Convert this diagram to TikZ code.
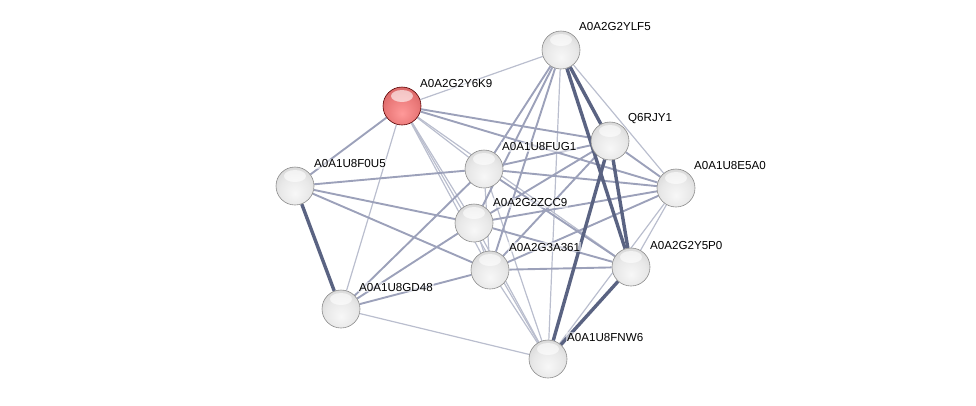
\documentclass[tikz,border=0pt]{standalone}
\usepackage{fontspec}
\setmainfont{Liberation Sans}
\usetikzlibrary{backgrounds}
\definecolor{ethin}{RGB}{186,190,206}
\definecolor{emed}{RGB}{156,161,186}
\definecolor{ethick}{RGB}{90,99,130}
\pgfdeclareradialshading{greyball}{\pgfpoint{0bp}{-10bp}}{color(0bp)=(black!3); color(20bp)=(black!9); color(36bp)=(black!18); color(46bp)=(black!35); color(60bp)=(black!50)}
\pgfdeclareradialshading{redball}{\pgfpoint{0bp}{-10bp}}{color(0bp)=(red!40!white); color(20bp)=(red!48!white!92!black); color(36bp)=(red!55!white!82!black); color(46bp)=(red!60!black!85!white); color(60bp)=(red!50!black)}
\tikzset{
  ball/.style={circle, minimum size=38pt, inner sep=0pt, draw=black!45, line width=0.6pt, shading=greyball,
    path picture={\fill[white,opacity=0.6] ([yshift=10pt]path picture bounding box.center) ellipse (11pt and 6pt);}},
  redb/.style={ball, draw=red!35!black, shading=redball},
  lab/.style={anchor=west, inner sep=1pt, fill=white, fill opacity=0.55, text opacity=1, font=\fontsize{11.6}{13}\selectfont, text=black},
  e1/.style={draw=ethin, line width=1.2pt},
  e2/.style={draw=emed, line width=1.9pt},
  e3/.style={draw=ethick, line width=3.4pt},
}
\begin{document}
\begin{tikzpicture}[x=1pt,y=-1pt]
\useasboundingbox (0,0) rectangle (976,405);
% nodes
\node[redb] (y6k9) at (402,106) {};
\node[ball] (ylf5) at (561,50) {};
\node[ball] (q6r) at (610,141) {};
\node[ball] (fug1) at (484,169) {};
\node[ball] (f0u5) at (295,186) {};
\node[ball] (e5a0) at (676,188) {};
\node[ball] (zcc9) at (474,223) {};
\node[ball] (a361) at (490,270) {};
\node[ball] (y5p0) at (631,267) {};
\node[ball] (gd48) at (341,309) {};
\node[ball] (fnw6) at (548,359) {};
% labels
\node[lab] (ly6k9) at (419,84) {A0A2G2Y6K9};
\node[lab] (lylf5) at (578,27) {A0A2G2YLF5};
\node[lab] (lq6r) at (627,119) {Q6RJY1};
\node[lab] (lfug1) at (501,147) {A0A1U8FUG1};
\node[lab] (lf0u5) at (313,164) {A0A1U8F0U5};
\node[lab] (le5a0) at (693,166) {A0A1U8E5A0};
\node[lab] (lzcc9) at (492,203) {A0A2G2ZCC9};
\node[lab] (la361) at (508,247) {A0A2G3A361};
\node[lab] (ly5p0) at (649,245) {A0A2G2Y5P0};
\node[lab] (lgd48) at (358,287) {A0A1U8GD48};
\node[lab] (lfnw6) at (566,337) {A0A1U8FNW6};
% edges
\begin{scope}[on background layer]
\draw[e1] (y6k9) -- (ylf5);
\draw[e1] (y6k9) -- (gd48);
\draw[e1] (y6k9) -- (fug1);
\draw[e1] (y6k9) -- (zcc9);
\draw[e1] (y6k9) -- (a361);
\draw[e1] (y6k9) -- (fnw6);
\draw[e1] (y6k9) -- (y5p0);
\draw[e1] (ylf5) -- (e5a0);
\draw[e1] (ylf5) -- (fnw6);
\draw[e1] (e5a0) -- (y5p0);
\draw[e1] (e5a0) -- (fnw6);
\draw[e1] (gd48) -- (fnw6);
\draw[e1] (a361) -- (fnw6);
\draw[e1] (zcc9) -- (fnw6);
\draw[e1] (fug1) -- (fnw6);
\draw[e1] (zcc9) -- (a361);
\draw[e1] (fug1) -- (a361);
\draw[e2] (y6k9) -- (f0u5);
\draw[e2] (y6k9) -- (q6r);
\draw[e2] (y6k9) -- (e5a0);
\draw[e2] (fug1) -- (e5a0);
\draw[e2] (q6r) -- (e5a0);
\draw[e2] (f0u5) -- (fug1);
\draw[e2] (zcc9) -- (e5a0);
\draw[e2] (a361) -- (e5a0);
\draw[e2] (a361) -- (y5p0);
\draw[e2] (fug1) -- (y5p0);
\draw[e2] (zcc9) -- (y5p0);
\draw[e2] (q6r) -- (zcc9);
\draw[e2] (q6r) -- (a361);
\draw[e2] (fug1) -- (q6r);
\draw[e2] (f0u5) -- (zcc9);
\draw[e2] (f0u5) -- (a361);
\draw[e2] (gd48) -- (a361);
\draw[e2] (gd48) -- (zcc9);
\draw[e2] (gd48) -- (fug1);
\draw[e2] (ylf5) -- (fug1);
\draw[e2] (ylf5) -- (zcc9);
\draw[e2] (ylf5) -- (a361);
\draw[e3] (f0u5) -- (gd48);
\draw[e3] (ylf5) -- (q6r);
\draw[e3] (ylf5) -- (y5p0);
\draw[e3] (q6r) -- (y5p0);
\draw[e3] (q6r) -- (fnw6);
\draw[e3] (y5p0) -- (fnw6);
\end{scope}
\end{tikzpicture}
\end{document}
